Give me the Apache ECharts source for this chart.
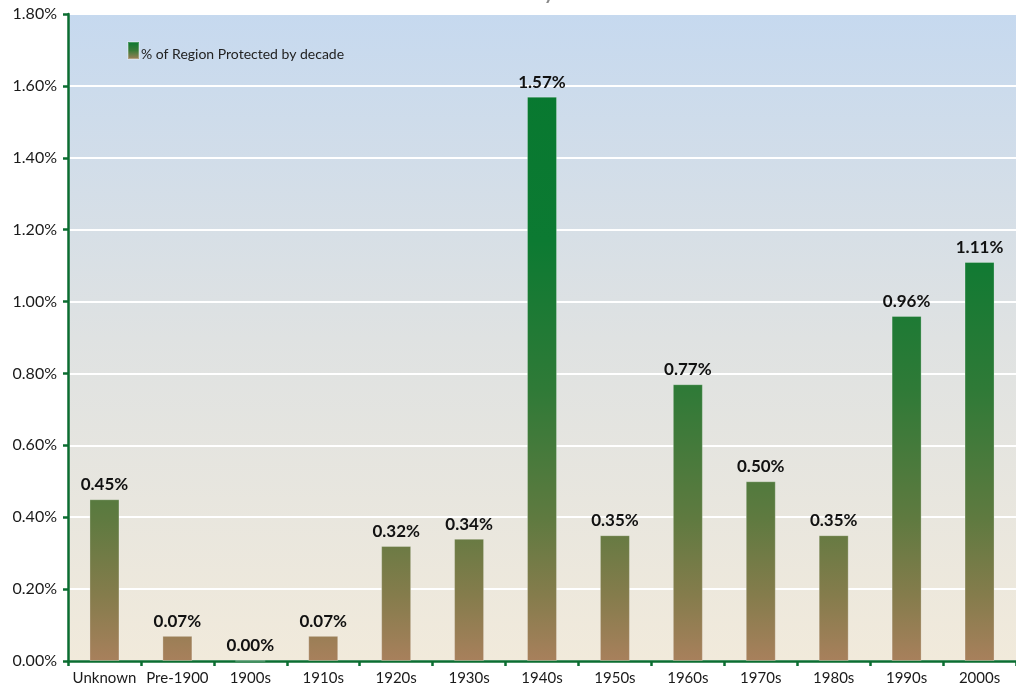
<!DOCTYPE html>
<html>
<head>
<meta charset="utf-8">
<title>Protected by Decade</title>
<script src="https://cdn.jsdelivr.net/npm/echarts@6/dist/echarts.min.js"></script>
<style>
  html, body { margin: 0; padding: 0; background: #ffffff; }
  #chart { width: 1016px; height: 692px; }
</style>
</head>
<body>
<div id="chart"></div>
<script>
// Share of the region protected, per decade of designation (percent)
const categories = ['Unknown', 'Pre-1900', '1900s', '1910s', '1920s', '1930s', '1940s',
                    '1950s', '1960s', '1970s', '1980s', '1990s', '2000s'];
const protectedShare = [0.45, 0.07, 0.00, 0.07, 0.32, 0.34, 1.57, 0.35, 0.77, 0.50, 0.35, 0.96, 1.11];
const seriesName = '% of Region Protected by decade';
const yTicks = { min: 0, max: 1.8, interval: 0.2 };

const FONT = 'Lato, "Open Sans", sans-serif';
const GRID = { left: 68, top: 14, right: -5, bottom: 31 };
const H = 692;

const barStops = [
  { offset: 0.00, color: '#06782f' },
  { offset: 0.35, color: '#0c7a32' },
  { offset: 0.58, color: '#2f7a37' },
  { offset: 0.78, color: '#5f7a40' },
  { offset: 0.90, color: '#857c4c' },
  { offset: 1.00, color: '#a8805c' }
];

// Bars share one gradient across the plot height, so short bars read brown and tall bars green
const barFill = new echarts.graphic.LinearGradient(0, GRID.top, 0, H - GRID.bottom, barStops, true);
const legendFill = new echarts.graphic.LinearGradient(0, 0, 0, 1, [
  { offset: 0, color: '#06782f' },
  { offset: 0.5, color: '#3a7a38' },
  { offset: 1, color: '#a8805c' }
]);
const plotBackground = new echarts.graphic.LinearGradient(0, 0, 0, 1, [
  { offset: 0.00, color: '#c6d9ef' },
  { offset: 0.50, color: '#dfe2e2' },
  { offset: 1.00, color: '#f1eadb' }
]);

const chart = echarts.init(document.getElementById('chart'), null, { renderer: 'canvas' });
chart.setOption({
  animation: false,
  backgroundColor: '#ffffff',
  title: {
    text: 'Land Protected by Decade',
    left: 400,
    top: -16,
    padding: 0,
    textStyle: { fontFamily: FONT, fontSize: 19, fontWeight: 'bold', color: '#8a8a8a' }
  },
  grid: Object.assign({
    show: true,
    borderWidth: 0,
    backgroundColor: plotBackground,
    containLabel: false
  }, GRID),
  legend: {
    left: 127,
    top: 41,
    padding: 0,
    itemWidth: 11,
    itemHeight: 17,
    itemGap: 4,
    formatter: name => '{t|' + name + '}',
    textStyle: {
      fontFamily: FONT, fontSize: 14, color: '#222222',
      rich: { t: { fontFamily: FONT, fontSize: 14, color: '#222222', padding: [8, 0, 0, -3] } }
    },
    data: [{ name: seriesName, icon: 'rect', itemStyle: { color: legendFill } }]
  },
  xAxis: {
    type: 'category',
    data: categories,
    axisLine: { lineStyle: { color: '#0b6d31', width: 2.5 } },
    axisTick: { show: true, alignWithLabel: false, length: 5, lineStyle: { color: '#0b6d31', width: 2.5 } },
    axisLabel: { interval: 0, fontFamily: FONT, fontSize: 15, color: '#1a1a1a', margin: 10 }
  },
  yAxis: {
    type: 'value',
    min: yTicks.min,
    max: yTicks.max,
    interval: yTicks.interval,
    axisLine: { show: true, lineStyle: { color: '#0b6d31', width: 2.5 } },
    axisTick: { show: true, length: 5, lineStyle: { color: '#0b6d31', width: 2.5 } },
    axisLabel: {
      fontFamily: FONT, fontSize: 16, color: '#1a1a1a', margin: 11,
      formatter: v => v.toFixed(2) + '%'
    },
    splitLine: { show: true, lineStyle: { color: '#ffffff', width: 2 } }
  },
  series: [{
    name: seriesName,
    type: 'bar',
    data: protectedShare,
    barWidth: 30,
    itemStyle: { color: barFill, borderColor: 'rgba(255,255,255,0.25)', borderWidth: 1 },
    label: {
      show: true,
      position: 'top',
      distance: 6,
      fontFamily: FONT,
      fontSize: 17,
      fontWeight: 'bold',
      color: '#111111',
      formatter: p => p.value.toFixed(2) + '%'
    }
  }]
});
</script>
</body>
</html>
